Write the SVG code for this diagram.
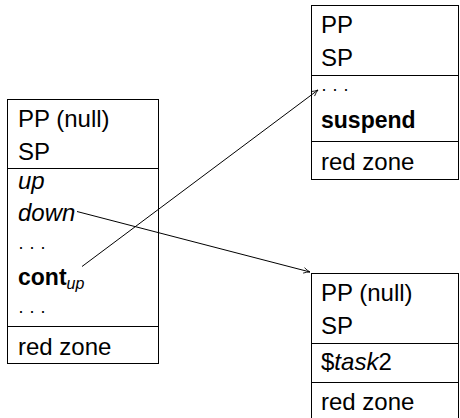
<svg xmlns="http://www.w3.org/2000/svg" width="460" height="418" viewBox="0 0 460 418">
<defs>
<style>
.box{fill:#fff;stroke:#000;stroke-width:1}
.sep{stroke:#000;stroke-width:1}
text{font-family:"Liberation Sans",Arial,sans-serif;font-size:24px;fill:#000}
.it{font-style:italic}
.bd{font-weight:bold;font-size:23px}
.sub{font-style:italic;font-size:16px}
.dots{font-size:18px}
.conn{fill:none;stroke:#000;stroke-width:1}
</style>
<marker id="arr" viewBox="0 0 10 10" refX="9" refY="5" markerWidth="8" markerHeight="8" orient="auto" markerUnits="userSpaceOnUse">
<path d="M1,1.5 Q5,4 9,5 Q5,6 1,8.5" fill="none" stroke="#000" stroke-width="1"/>
</marker>
</defs>
<g id="left-frame">
<rect class="box" x="7.5" y="99.5" width="151" height="264"/>
<line class="sep" x1="7.5" y1="168.5" x2="158.5" y2="168.5"/>
<line class="sep" x1="7.5" y1="326.5" x2="158.5" y2="326.5"/>
<text x="18" y="127">PP (null)</text>
<text x="18" y="160">SP</text>
<text x="18" y="189" class="it">up</text>
<text x="18" y="221" class="it">down</text>
<text x="18" y="253" class="dots">· · ·</text>
<text x="18" y="285"><tspan class="bd">cont</tspan><tspan class="sub" dy="4">up</tspan></text>
<text x="18" y="317" class="dots">· · ·</text>
<text x="18" y="355">red zone</text>
</g>
<g id="top-right-frame">
<rect class="box" x="311.5" y="5.5" width="147" height="174"/>
<line class="sep" x1="311.5" y1="75.5" x2="458.5" y2="75.5"/>
<line class="sep" x1="311.5" y1="141.5" x2="458.5" y2="141.5"/>
<text x="321" y="33">PP</text>
<text x="321" y="66">SP</text>
<text x="321" y="95" class="dots">· · ·</text>
<text x="321" y="128" class="bd">suspend</text>
<text x="321" y="170">red zone</text>
</g>
<g id="bottom-right-frame">
<rect class="box" x="311.5" y="273.5" width="147" height="146"/>
<line class="sep" x1="311.5" y1="343.5" x2="458.5" y2="343.5"/>
<line class="sep" x1="311.5" y1="382.5" x2="458.5" y2="382.5"/>
<text x="321" y="301">PP (null)</text>
<text x="321" y="334">SP</text>
<text x="321" y="370">$<tspan class="it">task</tspan>2</text>
<text x="321" y="410">red zone</text>
</g>
<g id="connectors">
<line class="conn" x1="77" y1="211.5" x2="310" y2="272" marker-end="url(#arr)"/>
<line class="conn" x1="82" y1="266.5" x2="318" y2="90" marker-end="url(#arr)"/>
</g>
</svg>
